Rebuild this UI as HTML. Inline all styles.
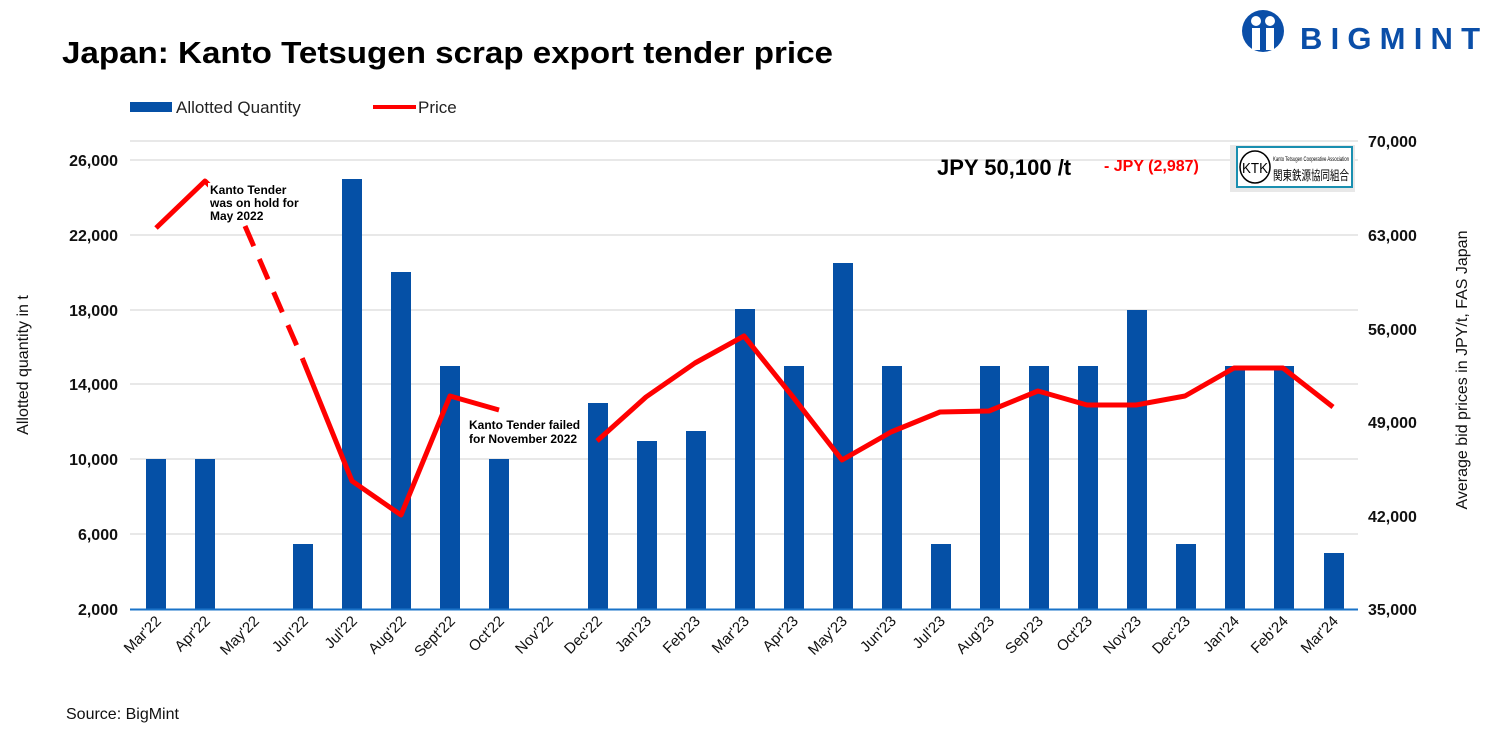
<!DOCTYPE html>
<html><head><meta charset="utf-8"><style>
body{margin:0;background:#fff;}
svg{display:block;font-family:"Liberation Sans",Arial,sans-serif;}
</style></head><body>
<svg width="1500" height="750" viewBox="0 0 1500 750" xmlns="http://www.w3.org/2000/svg">
<text x="62" y="63" font-size="31" font-weight="bold" fill="#000" textLength="771" lengthAdjust="spacingAndGlyphs">Japan: Kanto Tetsugen scrap export tender price</text>
<!-- logo -->
<g fill="#0a4ea8">
<circle cx="1263" cy="31" r="21"/>
<circle cx="1256" cy="21" r="5" fill="#fff"/><circle cx="1270" cy="21" r="5" fill="#fff"/>
<rect x="1252" y="28" width="8" height="22" fill="#fff"/><rect x="1266" y="28" width="8" height="22" fill="#fff"/>
<text x="1300" y="49" font-size="31" font-weight="bold" textLength="180" lengthAdjust="spacing">BIGMINT</text>
</g>
<!-- legend -->
<rect x="130" y="102" width="42" height="10" fill="#0550a6"/>
<text x="176" y="113" font-size="17" fill="#222">Allotted Quantity</text>
<rect x="373" y="105" width="43" height="4" fill="#f00"/>
<text x="418" y="113" font-size="17" fill="#222">Price</text>
<!-- gridlines -->
<g stroke="#d9d9d9" stroke-width="1.3">
<line x1="130" y1="141" x2="1358" y2="141"/>
<line x1="130" y1="160" x2="1358" y2="160"/>
<line x1="130" y1="235" x2="1358" y2="235"/>
<line x1="130" y1="310" x2="1358" y2="310"/>
<line x1="130" y1="384" x2="1358" y2="384"/>
<line x1="130" y1="459" x2="1358" y2="459"/>
<line x1="130" y1="534" x2="1358" y2="534"/>
</g>
<!-- left ticks -->
<g font-size="16" font-weight="bold" text-anchor="end" fill="#111">
<text x="118" y="166">26,000</text><text x="118" y="241">22,000</text><text x="118" y="316">18,000</text>
<text x="118" y="390">14,000</text><text x="118" y="465">10,000</text><text x="118" y="540">6,000</text><text x="118" y="615">2,000</text>
</g>
<g font-size="16" font-weight="bold" text-anchor="start" fill="#111">
<text x="1368" y="147">70,000</text><text x="1368" y="241">63,000</text><text x="1368" y="335">56,000</text>
<text x="1368" y="428">49,000</text><text x="1368" y="522">42,000</text><text x="1368" y="615">35,000</text>
</g>
<text transform="translate(28,365) rotate(-90)" font-size="16" text-anchor="middle" fill="#111">Allotted quantity in t</text>
<text transform="translate(1467,370) rotate(-90)" font-size="16" text-anchor="middle" fill="#111">Average bid prices in JPY/t, FAS Japan</text>
<!-- bars -->
<g fill="#0550a6">
<rect x="146" y="459" width="20" height="150"/>
<rect x="195" y="459" width="20" height="150"/>
<rect x="293" y="544" width="20" height="65"/>
<rect x="342" y="179" width="20" height="430"/>
<rect x="391" y="272" width="20" height="337"/>
<rect x="440" y="366" width="20" height="243"/>
<rect x="489" y="459" width="20" height="150"/>
<rect x="588" y="403" width="20" height="206"/>
<rect x="637" y="441" width="20" height="168"/>
<rect x="686" y="431" width="20" height="178"/>
<rect x="735" y="309" width="20" height="300"/>
<rect x="784" y="366" width="20" height="243"/>
<rect x="833" y="263" width="20" height="346"/>
<rect x="882" y="366" width="20" height="243"/>
<rect x="931" y="544" width="20" height="65"/>
<rect x="980" y="366" width="20" height="243"/>
<rect x="1029" y="366" width="20" height="243"/>
<rect x="1078" y="366" width="20" height="243"/>
<rect x="1127" y="310" width="20" height="299"/>
<rect x="1176" y="544" width="20" height="65"/>
<rect x="1225" y="366" width="20" height="243"/>
<rect x="1274" y="366" width="20" height="243"/>
<rect x="1324" y="553" width="20" height="56"/>
</g>
<line x1="130" y1="609.5" x2="1358" y2="609.5" stroke="#1a73c8" stroke-width="2"/>
<!-- price line -->
<g fill="none" stroke="#f00" stroke-width="5" stroke-linejoin="round">
<polyline points="156,228 205,181 228,204"/>
<polyline points="245,226 303,360" stroke-dasharray="22,14"/>
<polyline points="303,360 352,481 401,515 450,396 499,410"/>
<polyline points="597,441 646,397 695,363 744,336 793,397 842,460 891,432 940,412 989,411 1038,391 1087,405 1136,405 1185,396 1234,368 1283,368 1333,407"/>
</g>
<rect x="208" y="183" width="96" height="42" fill="#fff"/>
<g font-size="12" font-weight="bold" fill="#000">
<text x="210" y="194">Kanto Tender</text><text x="210" y="207">was on hold for</text><text x="210" y="220">May 2022</text>
<text x="469" y="429">Kanto Tender failed</text><text x="469" y="443">for November 2022</text>
</g>
<!-- headline -->
<text x="937" y="175" font-size="22" font-weight="bold" fill="#000">JPY 50,100 /t</text>
<text x="1104" y="171" font-size="16" font-weight="bold" fill="#f00">- JPY (2,987)</text>
<rect x="1230" y="145" width="125" height="47" fill="#e8e8e8"/>
<rect x="1237" y="147" width="115" height="40" fill="#fff" stroke="#1a8fb0" stroke-width="2"/>
<ellipse cx="1255" cy="167" rx="15" ry="16" fill="none" stroke="#000" stroke-width="1.5"/>
<text x="1255" y="173" font-size="15" text-anchor="middle" fill="#000" textLength="26" lengthAdjust="spacingAndGlyphs">KTK</text>
<text x="1273" y="161" font-size="6" fill="#000" textLength="76" lengthAdjust="spacingAndGlyphs">Kanto Tetsugen Cooperative Association</text>
<text x="1273" y="180" font-size="13" fill="#000" font-family="'Noto Sans CJK JP',sans-serif" textLength="76" lengthAdjust="spacingAndGlyphs">関東鉄源協同組合</text>
<!-- x labels -->
<g font-size="15" fill="#111" text-anchor="end">
<text transform="translate(162,622) rotate(-45)">Mar'22</text>
<text transform="translate(211,622) rotate(-45)">Apr'22</text>
<text transform="translate(260,622) rotate(-45)">May'22</text>
<text transform="translate(309,622) rotate(-45)">Jun'22</text>
<text transform="translate(358,622) rotate(-45)">Jul'22</text>
<text transform="translate(407,622) rotate(-45)">Aug'22</text>
<text transform="translate(456,622) rotate(-45)">Sept'22</text>
<text transform="translate(505,622) rotate(-45)">Oct'22</text>
<text transform="translate(554,622) rotate(-45)">Nov'22</text>
<text transform="translate(603,622) rotate(-45)">Dec'22</text>
<text transform="translate(652,622) rotate(-45)">Jan'23</text>
<text transform="translate(701,622) rotate(-45)">Feb'23</text>
<text transform="translate(750,622) rotate(-45)">Mar'23</text>
<text transform="translate(799,622) rotate(-45)">Apr'23</text>
<text transform="translate(848,622) rotate(-45)">May'23</text>
<text transform="translate(897,622) rotate(-45)">Jun'23</text>
<text transform="translate(946,622) rotate(-45)">Jul'23</text>
<text transform="translate(995,622) rotate(-45)">Aug'23</text>
<text transform="translate(1044,622) rotate(-45)">Sep'23</text>
<text transform="translate(1093,622) rotate(-45)">Oct'23</text>
<text transform="translate(1142,622) rotate(-45)">Nov'23</text>
<text transform="translate(1191,622) rotate(-45)">Dec'23</text>
<text transform="translate(1240,622) rotate(-45)">Jan'24</text>
<text transform="translate(1289,622) rotate(-45)">Feb'24</text>
<text transform="translate(1339,622) rotate(-45)">Mar'24</text>
</g>
<text x="66" y="719" font-size="16" fill="#111">Source: BigMint</text>
</svg>
</body></html>
